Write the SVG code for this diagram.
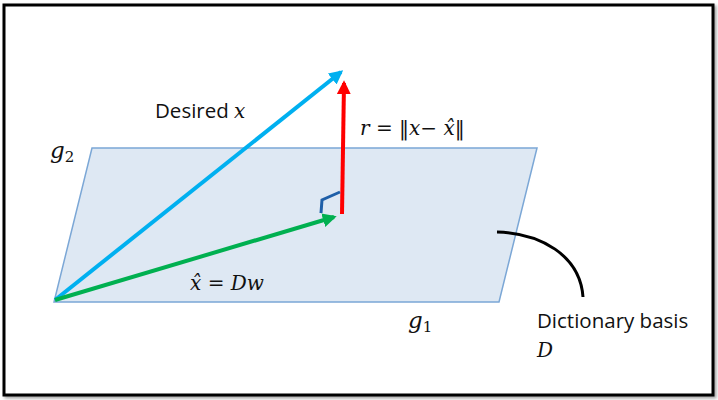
<svg xmlns="http://www.w3.org/2000/svg" width="718" height="400" viewBox="0 0 718 400">
<style>
.math{font-family:"DejaVu Serif","Liberation Serif",serif;font-style:italic;font-size:20px;fill:#111}
.mathr{font-family:"DejaVu Serif","Liberation Serif",serif;font-style:normal;font-size:20px;fill:#111}
.lbl{font-family:"Open Sans","Liberation Sans",sans-serif;font-size:20.5px;fill:#111}
.g{font-family:"DejaVu Serif","Liberation Serif",serif;font-style:italic;font-size:23px;fill:#111}
.sub{font-family:"DejaVu Serif","Liberation Serif",serif;font-style:normal;font-size:15px;fill:#111}
</style>
<defs>
<marker id="ab" viewBox="0 0 10 10" refX="8" refY="5" markerWidth="3.5" markerHeight="3.5" orient="auto" markerUnits="strokeWidth"><path d="M0,0 L10,5 L0,10 z" fill="#00b0f0"/></marker>
<marker id="ar" viewBox="0 0 10 10" refX="8" refY="5" markerWidth="3.5" markerHeight="3.5" orient="auto" markerUnits="strokeWidth"><path d="M0,0 L10,5 L0,10 z" fill="#ff0000"/></marker>
<marker id="ag" viewBox="0 0 10 10" refX="8" refY="5" markerWidth="3.5" markerHeight="3.5" orient="auto" markerUnits="strokeWidth"><path d="M0,0 L10,5 L0,10 z" fill="#00b050"/></marker>
<filter id="sh" x="-5%" y="-5%" width="110%" height="110%"><feDropShadow dx="2" dy="2" stdDeviation="1.5" flood-color="#000" flood-opacity="0.35"/></filter>
</defs>
<rect x="4" y="5" width="709" height="390" fill="#fff" stroke="#000" stroke-width="3" filter="url(#sh)"/>
<g id="plane">
<polygon points="92,148 537,148 499,302 54,302" fill="#dee8f3" stroke="#7ba7d6" stroke-width="1.5"/>
</g>
<g id="connectors">
<line x1="55" y1="300" x2="341" y2="72" stroke="#00b0f0" stroke-width="4" marker-end="url(#ab)"/>
<line x1="342" y1="214" x2="344" y2="83" stroke="#ff0000" stroke-width="4" marker-end="url(#ar)"/>
<line x1="55" y1="300" x2="334" y2="217" stroke="#00b050" stroke-width="4" marker-end="url(#ag)"/>
<polyline points="321,213 322,200 340,192" fill="none" stroke="#1f5fa8" stroke-width="3"/>
<path d="M497,232 C540,233 580,255 583,297" fill="none" stroke="#000" stroke-width="3"/>
</g>
<g id="labels">
<text x="155" y="118" class="lbl">Desired <tspan class="math">x</tspan></text>
<text x="50" y="158" class="g">g<tspan class="sub" dy="4">2</tspan></text>
<text x="360" y="135" class="math">r <tspan class="mathr">= ‖</tspan>x<tspan class="mathr">− </tspan>x̂<tspan class="mathr">‖</tspan></text>
<text x="190" y="290" class="math">x̂ <tspan class="mathr">=</tspan> Dw</text>
<text x="408" y="328" class="g">g<tspan class="sub" dy="4">1</tspan></text>
<text x="537" y="328" class="lbl">Dictionary basis</text>
<text x="537" y="357" class="math">D</text>
</g>
</svg>
